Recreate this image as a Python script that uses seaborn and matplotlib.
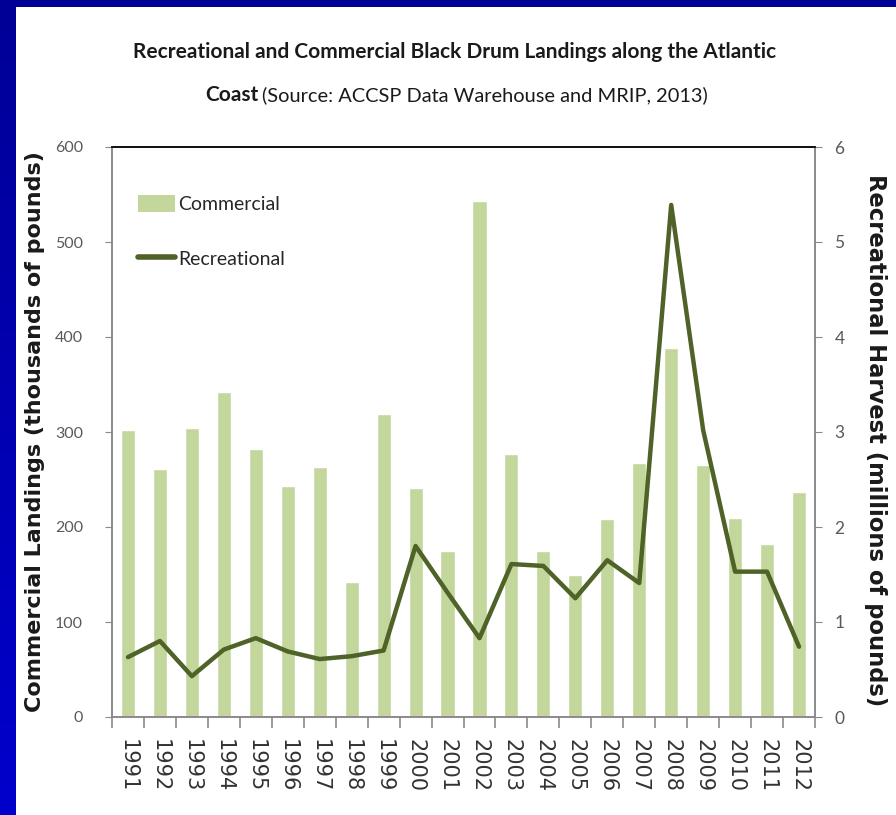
import numpy as np
import pandas as pd
import matplotlib
matplotlib.use("Agg")
import matplotlib.pyplot as plt
from matplotlib.patches import Patch
from matplotlib.lines import Line2D
import seaborn as sns

# ---- Data ----
years = [str(y) for y in range(1991, 2013)]
commercial = [302, 261, 304, 342, 282, 243, 263, 142, 319, 241, 175,
              543, 277, 175, 149, 208, 267, 388, 265, 210, 182, 237]   # thousands of lbs
recreational = [0.63, 0.80, 0.43, 0.71, 0.83, 0.69, 0.61, 0.64, 0.70, 1.80, 1.31,
                0.83, 1.61, 1.59, 1.25, 1.65, 1.41, 5.39, 3.02, 1.53, 1.53, 0.74]  # millions of lbs

left_ticks = [0, 100, 200, 300, 400, 500, 600]
right_ticks = [0, 1, 2, 3, 4, 5, 6]

BAR = '#C3D69B'
LINE = '#4F6228'

# ---- Setup ----
sns.set_style('ticks')
plt.rcParams['font.family'] = ['Lato', 'DejaVu Sans']

df = pd.DataFrame({'year': years, 'commercial': commercial, 'recreational': recreational})
df['pos'] = df.index

fig = plt.figure(figsize=(8.96, 8.15), dpi=100)
fig.patch.set_facecolor('white')

# blue slide border (top strip + left strip with a slight gradient)
top = fig.add_axes([0, 1 - 7 / 815, 1, 7 / 815])
top.set_axis_off()
top.add_patch(plt.Rectangle((0, 0), 1, 1, color='#000096', transform=top.transAxes))
side = fig.add_axes([0, 0, 16 / 896, 1])
grad = np.linspace(0, 1, 256).reshape(-1, 1)
side.imshow(grad, aspect='auto',
            cmap=matplotlib.colors.LinearSegmentedColormap.from_list('b', ['#000096', '#0000CC']))
side.set_axis_off()

ax = fig.add_axes([112 / 896, 1 - 717 / 815, (815 - 112) / 896, (717 - 147) / 815])
sns.barplot(data=df, x='year', y='commercial', color=BAR, saturation=1, width=0.44, ax=ax)
ax.set_ylim(0, 600)
ax.set_yticks(left_ticks)
ax.set_xlabel('')
ax.set_ylabel('Commercial Landings (thousands of pounds)', family='DejaVu Sans',
              fontsize=16, fontweight='bold', color='#1a1a1a', va='center')
ax.yaxis.set_label_coords(-(112 - 35) / 703, 0.5)

ax2 = ax.twinx()
sns.lineplot(data=df, x='pos', y='recreational', color=LINE, linewidth=3.2, ax=ax2)
ax2.set_ylim(0, 6)
ax2.set_yticks(right_ticks)
ax.set_xlim(-0.5, len(years) - 0.5)
ax2.set_ylabel('Recreational Harvest (millions of pounds)', family='DejaVu Sans',
               fontsize=16.3, fontweight='bold', color='#1a1a1a', rotation=-90, va='center')
ax2.yaxis.set_label_coords(1 + (875 - 815) / 703, 0.485)

# axis cosmetics
for a in (ax, ax2):
    for s in ('left', 'right', 'bottom'):
        a.spines[s].set_color('#8a8a8a')
        a.spines[s].set_linewidth(1.2)
    a.spines['top'].set_color('#111111')
    a.spines['top'].set_linewidth(1.3)

ax.tick_params(axis='y', length=5, color='#8a8a8a', labelsize=11.5, labelcolor='#595959', pad=16)
ax2.tick_params(axis='y', length=5, color='#8a8a8a', labelsize=12.5, labelcolor='#595959', pad=9)
ax.set_xticks(np.arange(-0.5, len(years), 1), minor=True)
ax.tick_params(axis='x', which='major', length=0, pad=16, labelsize=15, labelcolor='#333333',
               labelrotation=-90)
ax.tick_params(axis='x', which='minor', length=8, color='#8a8a8a', width=1.2)
for lbl in ax.get_xticklabels():
    lbl.set_family('DejaVu Sans')

# legend
handles = [Patch(facecolor=BAR, edgecolor='none'),
           Line2D([0], [0], color=LINE, linewidth=4)]
fig.legend(handles, ['Commercial', 'Recreational'], loc='upper left',
           bbox_to_anchor=(138 / 896, 1 - 195 / 815), frameon=False, fontsize=14,
           handlelength=1.9, handleheight=1.0, handletextpad=0.15, labelspacing=1.85,
           borderpad=0, borderaxespad=0)

# title (two lines, second line mixes bold and regular)
fig.text(455 / 896, 1 - 52 / 815,
         'Recreational and Commercial Black Drum Landings along the Atlantic',
         ha='center', va='center', fontsize=15, fontweight='bold', color='#1a1a1a')
fig.text(258 / 896, 1 - 95 / 815, 'Coast', ha='right', va='center',
         fontsize=15, fontweight='bold', color='#1a1a1a')
fig.text(262 / 896, 1 - 95 / 815, '(Source: ACCSP Data Warehouse and MRIP, 2013)',
         ha='left', va='center', fontsize=14.4, color='#1a1a1a')

fig.savefig('out.png', dpi=100, facecolor='white')
